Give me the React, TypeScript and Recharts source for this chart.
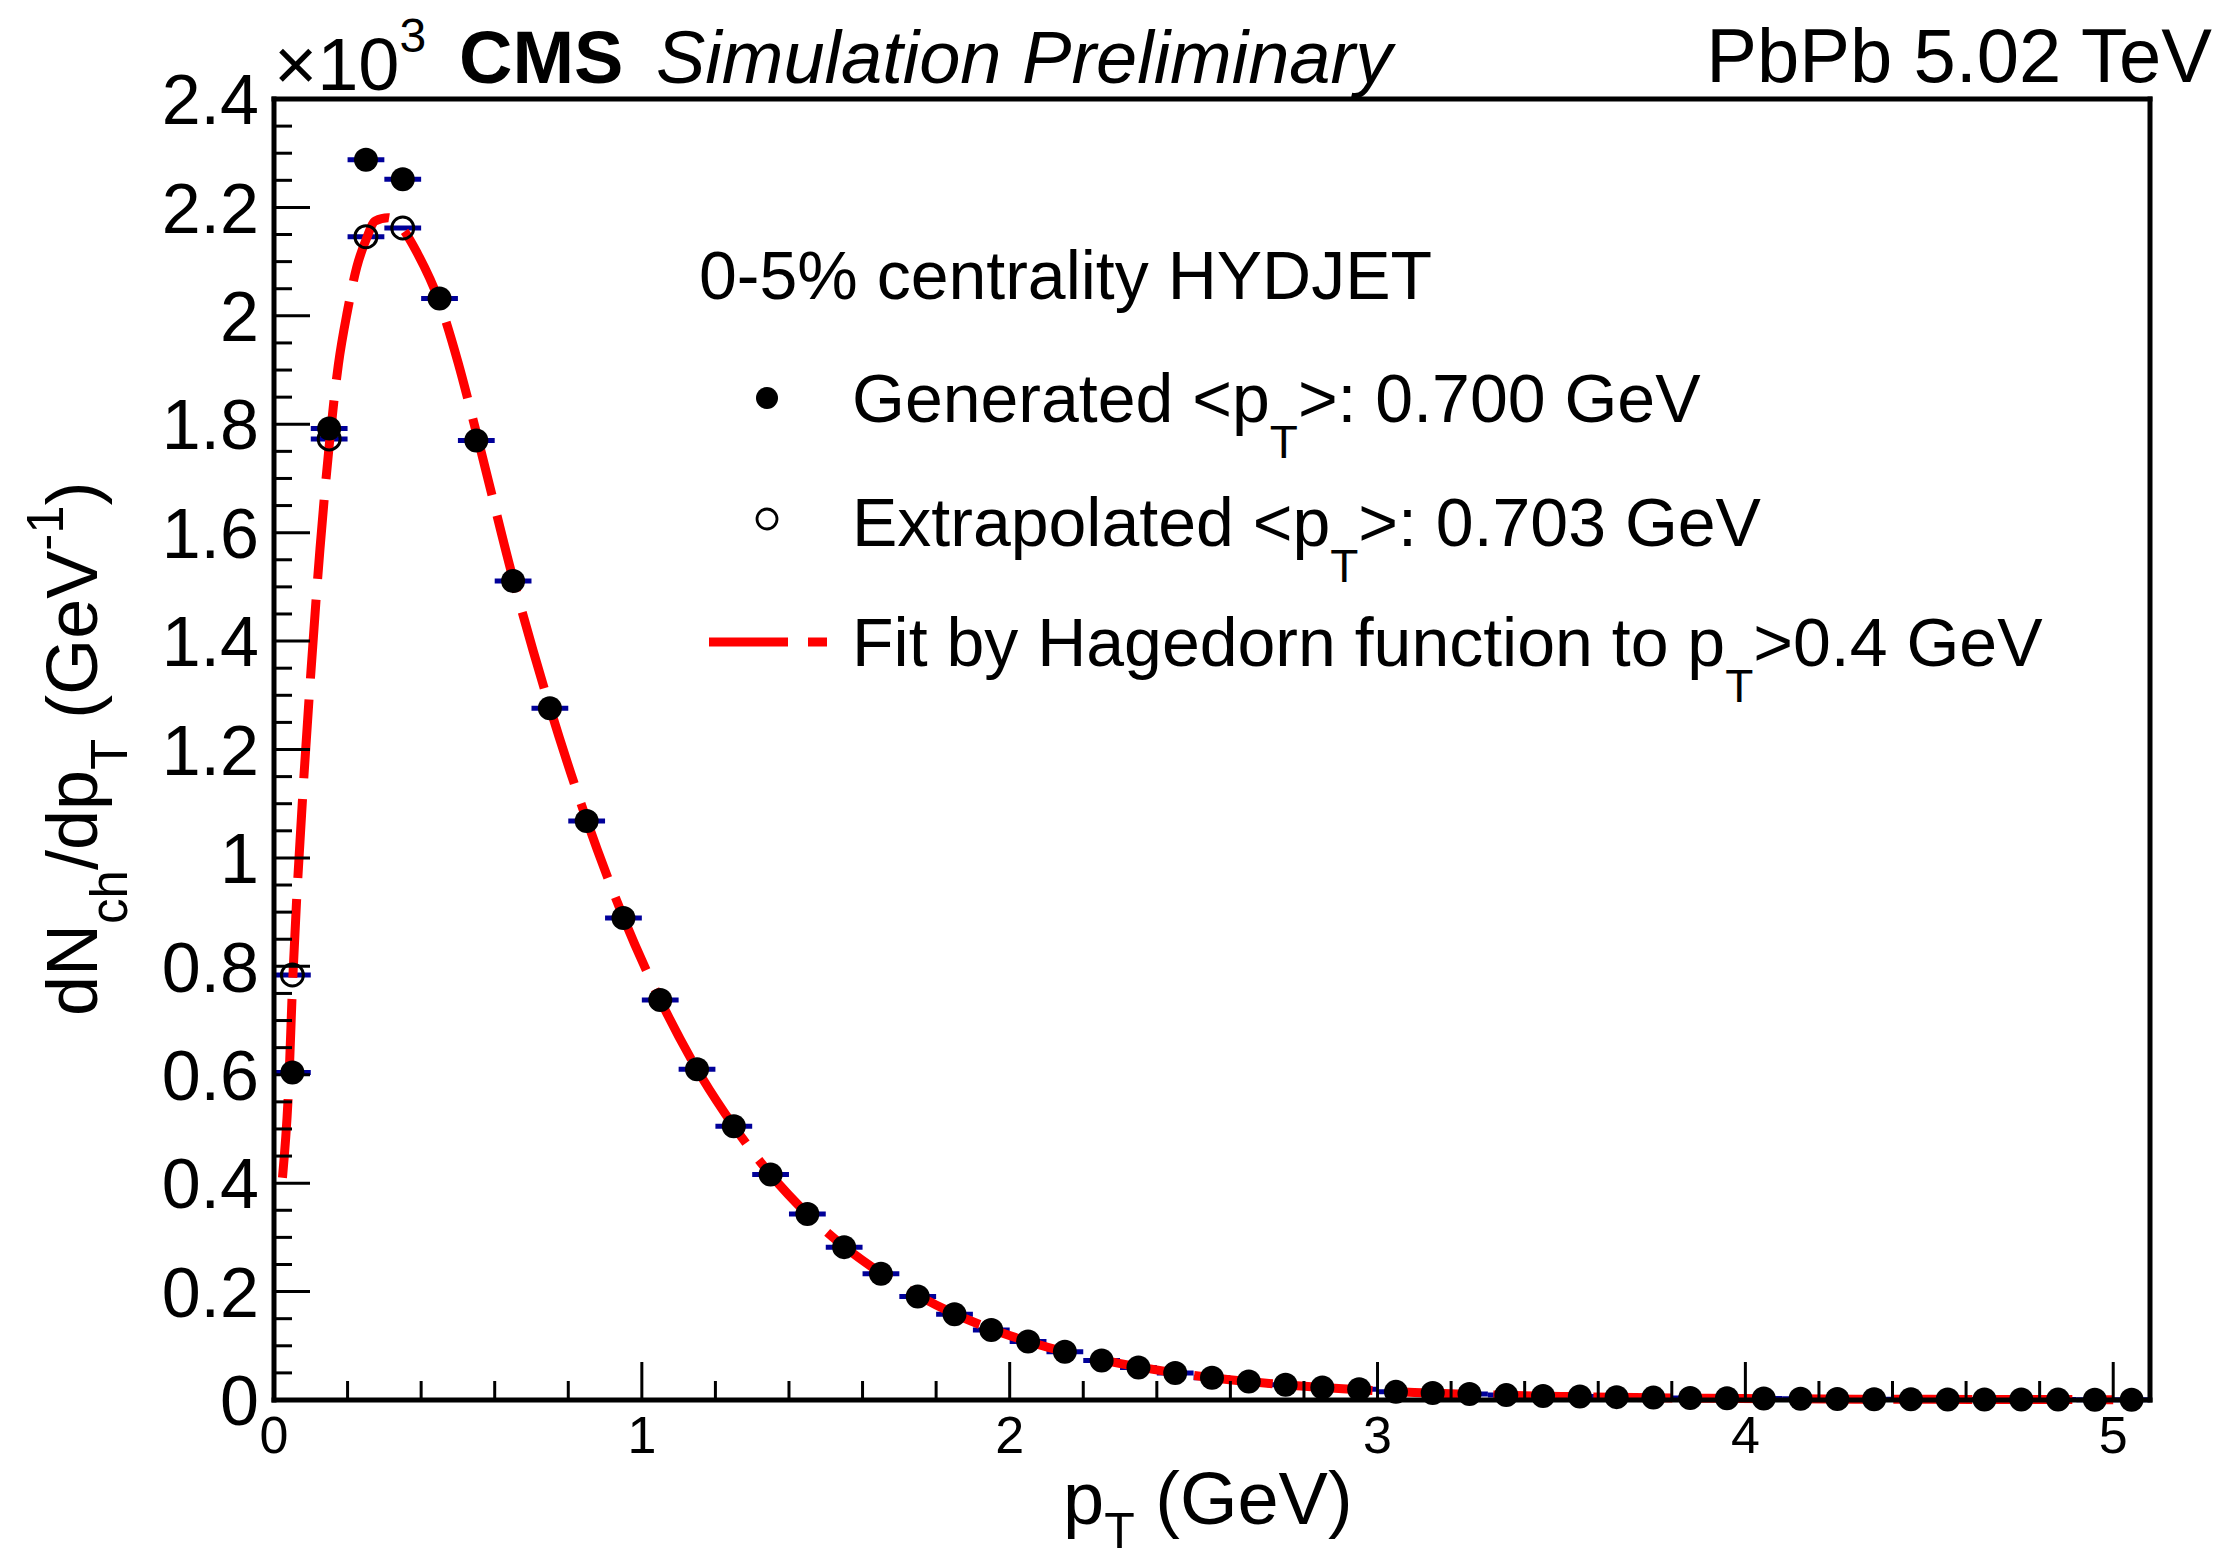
import React from 'react';
import { ComposedChart, Scatter, Line, XAxis, YAxis, ErrorBar } from 'recharts';

const W = 2223;
const H = 1562;
const FONT = "'Liberation Sans', Arial, Helvetica, sans-serif";

// pT bin centres (GeV), bins of 0.1 GeV
const binCenters = [
  0.05, 0.15, 0.25, 0.35, 0.45, 0.55, 0.65, 0.75, 0.85, 0.95,
  1.05, 1.15, 1.25, 1.35, 1.45, 1.55, 1.65, 1.75, 1.85, 1.95,
  2.05, 2.15, 2.25, 2.35, 2.45, 2.55, 2.65, 2.75, 2.85, 2.95,
  3.05, 3.15, 3.25, 3.35, 3.45, 3.55, 3.65, 3.75, 3.85, 3.95,
  4.05, 4.15, 4.25, 4.35, 4.45, 4.55, 4.65, 4.75, 4.85, 4.95, 5.05,
];

// dNch/dpT in units of 10^3
const generated = [
  0.604, 1.792, 2.288, 2.252, 2.032, 1.770, 1.511, 1.276, 1.068, 0.889,
  0.738, 0.610, 0.505, 0.416, 0.343, 0.282, 0.233, 0.191, 0.158, 0.129,
  0.108, 0.089, 0.073, 0.060, 0.050, 0.041, 0.034, 0.028, 0.023, 0.020,
  0.015, 0.013, 0.011, 0.009, 0.0075, 0.0063, 0.0053, 0.0044, 0.0037, 0.0031,
  0.0026, 0.0022, 0.0018, 0.0015, 0.0013, 0.0011, 0.0009, 0.0008, 0.0007, 0.0006, 0.0005,
];

const extrapolatedCenters = [0.05, 0.15, 0.25, 0.35];
const extrapolated = [0.784, 1.773, 2.146, 2.162];

// Hagedorn fit
const fitPt = [
  0.023, 0.04, 0.05, 0.075, 0.1, 0.125, 0.15, 0.175, 0.2, 0.225,
  0.25, 0.275, 0.31, 0.35, 0.39, 0.45, 0.5, 0.55, 0.65, 0.75,
  0.85, 0.95, 1.05, 1.15, 1.25, 1.35, 1.45, 1.55, 1.65, 1.75,
  1.85, 1.95, 2.05, 2.15, 2.25, 2.35, 2.45, 2.55, 2.65, 2.75,
  2.85, 2.95, 3.1, 3.3, 3.5, 3.7, 3.9, 4.1, 4.3, 4.5, 4.7, 4.9, 5.0,
];
const fitValues = [
  0.41, 0.58, 0.76, 1.08, 1.34, 1.57, 1.76, 1.91, 2.01, 2.09,
  2.14, 2.175, 2.181, 2.16, 2.115, 2.025, 1.915, 1.785, 1.515, 1.278,
  1.07, 0.89, 0.738, 0.61, 0.505, 0.416, 0.343, 0.283, 0.234, 0.193,
  0.159, 0.131, 0.108, 0.089, 0.074, 0.061, 0.050, 0.041, 0.034, 0.028,
  0.023, 0.019, 0.014, 0.0095, 0.0066, 0.0046, 0.0032, 0.0023, 0.0016, 0.0012, 0.0009, 0.0007, 0.0006,
];

const binHalfWidth = 0.05;

const xTicks = [
  0, 0.2, 0.4, 0.6, 0.8, 1, 1.2, 1.4, 1.6, 1.8, 2, 2.2, 2.4, 2.6, 2.8,
  3, 3.2, 3.4, 3.6, 3.8, 4, 4.2, 4.4, 4.6, 4.8, 5,
];
const yTicks = [
  0, 0.05, 0.1, 0.15, 0.2, 0.25, 0.3, 0.35, 0.4, 0.45, 0.5, 0.55, 0.6, 0.65, 0.7, 0.75,
  0.8, 0.85, 0.9, 0.95, 1, 1.05, 1.1, 1.15, 1.2, 1.25, 1.3, 1.35, 1.4, 1.45, 1.5, 1.55,
  1.6, 1.65, 1.7, 1.75, 1.8, 1.85, 1.9, 1.95, 2, 2.05, 2.1, 2.15, 2.2, 2.25, 2.3, 2.35, 2.4,
];

const generatedData = binCenters.map((x, i) => ({ x, y: generated[i], ex: binHalfWidth }));
const extrapolatedData = extrapolatedCenters.map((x, i) => ({ x, y: extrapolated[i], ex: binHalfWidth }));
const fitData = fitPt.map((x, i) => ({ x, y: fitValues[i] }));

const isMajorX = (v: number) => Math.abs(v - Math.round(v)) < 1e-6;
const isMajorY = (v: number) => Math.abs(v * 5 - Math.round(v * 5)) < 1e-6;

const BottomTick = ({ x, y, payload }: any) => {
  const major = isMajorX(payload.value);
  return (
    <g>
      <line x1={x} x2={x} y1={y} y2={y - (major ? 38 : 19)} stroke="#000" strokeWidth={3} />
      {major && (
        <text x={x} y={y + 53} textAnchor="middle" fontFamily={FONT} fontSize={52} fill="#000">
          {String(Math.round(payload.value))}
        </text>
      )}
    </g>
  );
};

const TopTick = ({ x, y, payload }: any) => {
  const major = isMajorX(payload.value);
  return <line x1={x} x2={x} y1={y} y2={y + (major ? 38 : 19)} stroke="#000" strokeWidth={3} />;
};

const LeftTick = ({ x, y, payload }: any) => {
  const major = isMajorY(payload.value);
  return (
    <g>
      <line x1={x} x2={x + (major ? 36 : 18)} y1={y} y2={y} stroke="#000" strokeWidth={3} />
      {major && (
        <text x={x - 15} y={y} dy="0.36em" textAnchor="end" fontFamily={FONT} fontSize={70} fill="#000">
          {String(Number(payload.value.toFixed(1)))}
        </text>
      )}
    </g>
  );
};

const RightTick = ({ x, y, payload }: any) => {
  const major = isMajorY(payload.value);
  return <line x1={x} x2={x - (major ? 36 : 18)} y1={y} y2={y} stroke="#000" strokeWidth={3} />;
};

const FilledDot = ({ cx, cy }: any) => <circle cx={cx} cy={cy} r={12} fill="#000" />;
const OpenDot = ({ cx, cy }: any) => <circle cx={cx} cy={cy} r={11} fill="none" stroke="#000" strokeWidth={3} />;

const frame = { stroke: '#000', strokeWidth: 5, strokeLinecap: 'square' as const };

export default function App() {
  return (
    <div style={{ position: 'relative', width: W, height: H, background: '#fff' }}>
      <style>{'body{margin:0}'}</style>
      <ComposedChart width={W} height={H} margin={{ top: 79, right: 53, bottom: 62, left: 74 }}>
        <XAxis
          dataKey="x"
          type="number"
          domain={[0, 5.1]}
          ticks={xTicks}
          interval={0}
          height={100}
          tickSize={0}
          tickMargin={0}
          tickLine={false}
          axisLine={frame}
          tick={(p: any) => <BottomTick {...p} />}
        />
        <XAxis
          xAxisId="top"
          orientation="top"
          type="number"
          domain={[0, 5.1]}
          ticks={xTicks}
          interval={0}
          height={20}
          tickSize={0}
          tickMargin={0}
          tickLine={false}
          axisLine={frame}
          tick={(p: any) => <TopTick {...p} />}
        />
        <YAxis
          dataKey="y"
          type="number"
          domain={[0, 2.4]}
          ticks={yTicks}
          interval={0}
          width={200}
          tickSize={0}
          tickMargin={0}
          tickLine={false}
          axisLine={frame}
          tick={(p: any) => <LeftTick {...p} />}
        />
        <YAxis
          yAxisId="right"
          orientation="right"
          type="number"
          domain={[0, 2.4]}
          ticks={yTicks}
          interval={0}
          width={20}
          tickSize={0}
          tickMargin={0}
          tickLine={false}
          axisLine={frame}
          tick={(p: any) => <RightTick {...p} />}
        />
        <Scatter data={generatedData} dataKey="y" shape={FilledDot} isAnimationActive={false}>
          <ErrorBar dataKey="ex" direction="x" width={0} stroke="#000099" strokeWidth={5} isAnimationActive={false} />
        </Scatter>
        <Scatter data={extrapolatedData} dataKey="y" shape={OpenDot} isAnimationActive={false}>
          <ErrorBar dataKey="ex" direction="x" width={0} stroke="#000099" strokeWidth={5} isAnimationActive={false} />
        </Scatter>
        <Line
          data={fitData}
          dataKey="y"
          type="monotone"
          stroke="#ff0000"
          strokeWidth={9}
          strokeDasharray="79 21"
          dot={false}
          activeDot={false}
          isAnimationActive={false}
        />
      </ComposedChart>

      <svg
        width={W}
        height={H}
        style={{ position: 'absolute', left: 0, top: 0, pointerEvents: 'none', whiteSpace: 'pre' }}
        fontFamily={FONT}
        fill="#000"
      >
        {/* header */}
        <text x={274} y={90} fontSize={74}>
          ×10<tspan fontSize={48} dy={-38}>3</tspan>
        </text>
        <text x={459} y={83} fontSize={74} fontWeight="bold">CMS</text>
        <text x={656} y={83} fontSize={74} fontStyle="italic">Simulation Preliminary</text>
        <text x={2212} y={82} fontSize={76} textAnchor="end">PbPb 5.02 TeV</text>

        {/* legend */}
        <text x={699} y={299} fontSize={68}>0-5% centrality HYDJET</text>
        <circle cx={767} cy={398} r={11} fill="#000" />
        <text x={852} y={422} fontSize={68}>
          Generated &lt;p<tspan fontSize={46} dy={36}>T</tspan>
          <tspan dy={-36}>&gt;: 0.700 GeV</tspan>
        </text>
        <circle cx={767} cy={519} r={10} fill="none" stroke="#000" strokeWidth={2.8} />
        <text x={852} y={546} fontSize={68}>
          Extrapolated &lt;p<tspan fontSize={46} dy={36}>T</tspan>
          <tspan dy={-36}>&gt;: 0.703 GeV</tspan>
        </text>
        <line x1={709} x2={827} y1={642} y2={642} stroke="#ff0000" strokeWidth={9} strokeDasharray="79 20" />
        <text x={852} y={666} fontSize={68}>
          Fit by Hagedorn function to p<tspan fontSize={46} dy={36}>T</tspan>
          <tspan dy={-36}>&gt;0.4 GeV</tspan>
        </text>

        {/* axis titles */}
        <text x={1063} y={1524} fontSize={74}>
          p<tspan fontSize={50} dy={24}>T</tspan>
          <tspan dy={-24}> (GeV)</tspan>
        </text>
        <text x={97} y={1016} fontSize={72} transform="rotate(-90 97 1016)">
          dN<tspan fontSize={51} dy={30}>ch</tspan>
          <tspan dy={-30}>/dp</tspan>
          <tspan fontSize={51} dy={30}>T</tspan>
          <tspan dy={-30}> (GeV</tspan>
          <tspan fontSize={51} dy={-34}>-1</tspan>
          <tspan dy={34}>)</tspan>
        </text>
      </svg>
    </div>
  );
}
